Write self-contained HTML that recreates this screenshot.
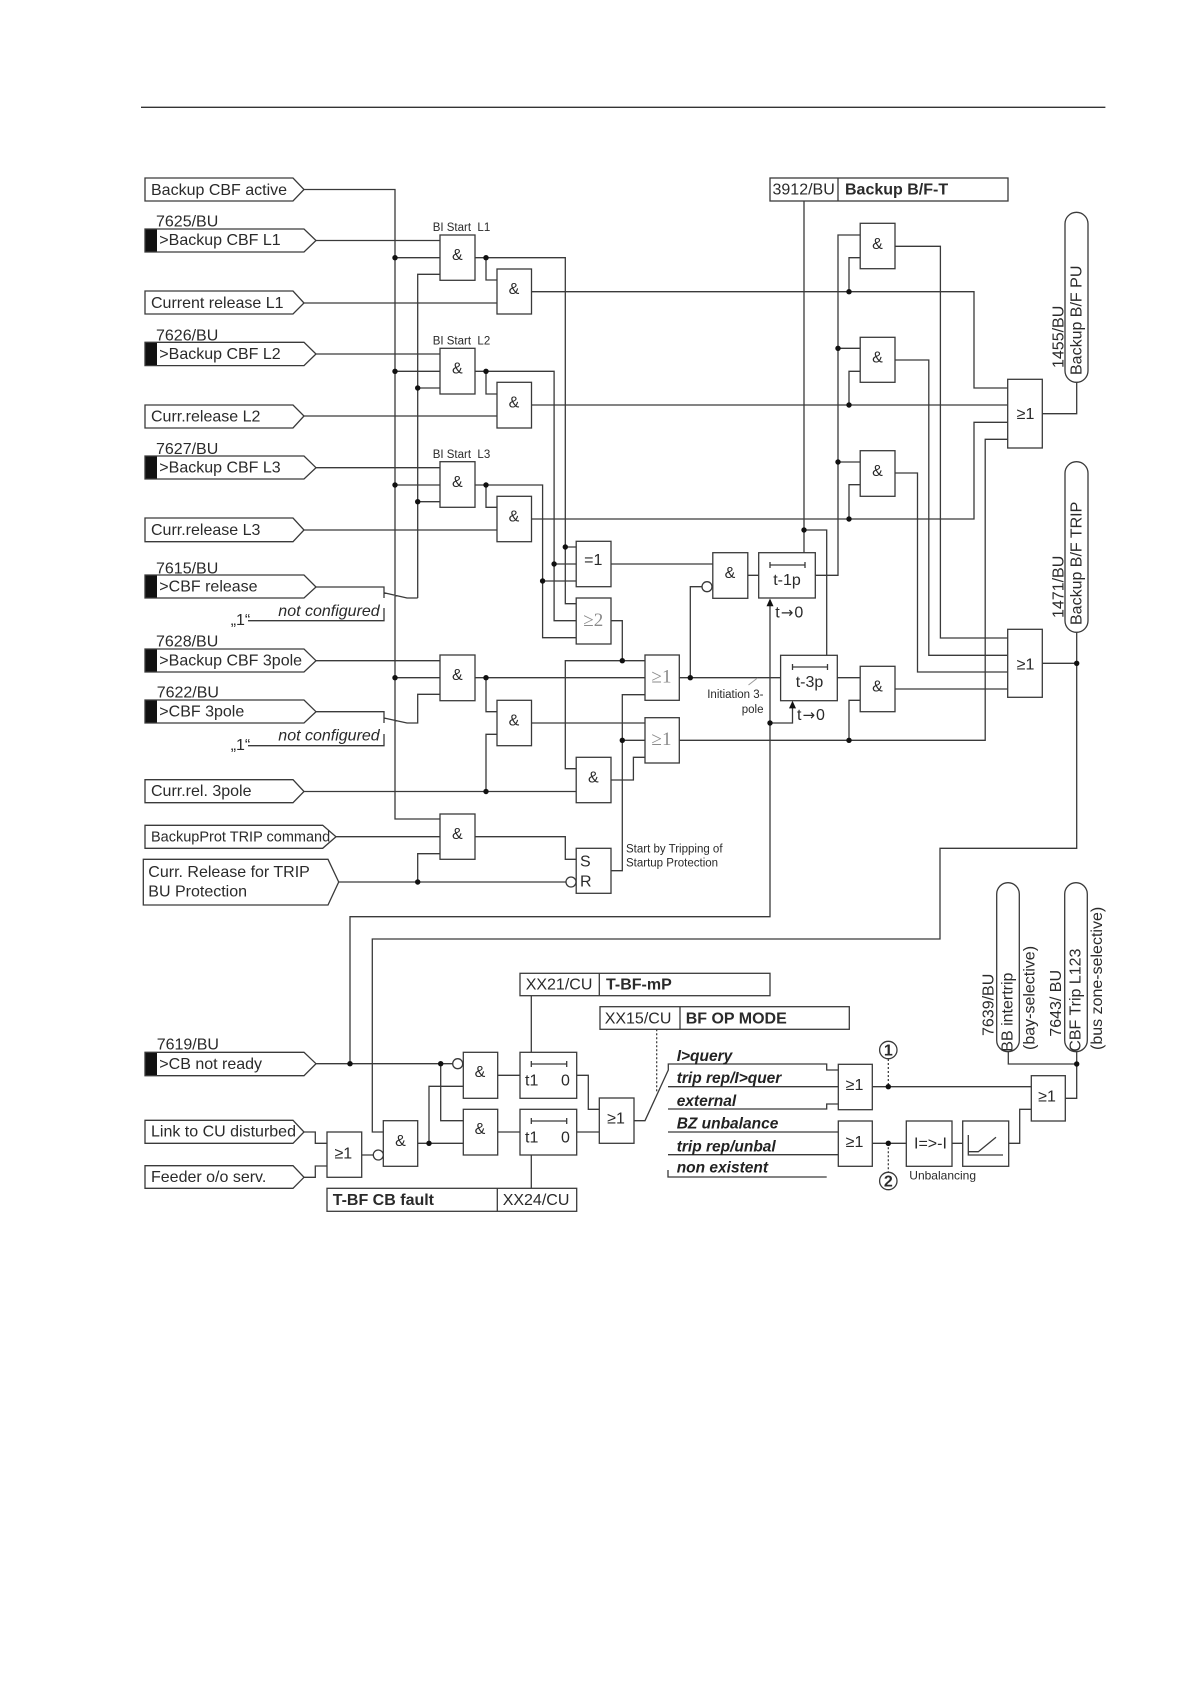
<!DOCTYPE html>
<html><head><meta charset="utf-8"><style>
html,body{margin:0;padding:0;background:#fff}
svg{display:block}
text{font-family:"Liberation Sans",sans-serif;font-size:16px;fill:#2a2a2a;white-space:pre}
.w{fill:none;stroke:#3a3a3a;stroke-width:1.3}
.b rect,.b path{fill:#fff;stroke:#3a3a3a;stroke-width:1.3}
.m{text-anchor:middle}
.i{font-style:italic}
.bd{font-weight:bold}
.bi{font-weight:bold;font-style:italic;font-size:15.5px;fill:#222}
.s{font-size:11.5px}
.g{font-family:"Liberation Serif",serif;font-size:19px;fill:#8a8a8a;text-anchor:middle}
.a{font-family:"DejaVu Sans",sans-serif;font-size:15px}
</style></head><body>
<svg width="1190" height="1684" viewBox="0 0 1190 1684" xmlns="http://www.w3.org/2000/svg">
<path d="M141 107.3H1105.4" fill="none" stroke="#333" stroke-width="1.3"/>

<path class="w" d="M304 189.5H395V819H440M316 240.5H440M395 257.7H440M417.7 598V274.3H440M304 303H497M475 257.7H565.3V603.7H576.2M486 257.7V280H497M531.5 291.7H974V388H1007.7
M316 354H440M395 371.3H440M417.7 388H440M475 371.3H554.1V620.7H576.2M486 371.3V394H497M304 416H497M531.5 405H1007.7
M316 467.7H440M395 485H440M417.7 501.7H440M475 485H542.6V637.7H576.2M486 485V507.3H497M304 530H497M531.5 519H974V422.3H1007.7
M316 587H384V598M384 592.7L407 598H417.7M384 608V620.7H248
M316 660.7H440M395 677.7H440M475 677.7H645M486 677.7V711.7H497M497 734.3H486V791.5M304 791.5H576.2M440 694.3H417.7V723H407L384 718M316 711.7H384V723M384 734V745.7H248
M531.5 723H645M336 836.7H440M475 836.7H565.3V859.3H576.2M338.7 882H566M417.7 882V853.7H440
M645 660.7H565.3V768.7H576.2M611 620.7H622.3V660.7M611 870.7H622.3V694.7H645M622.3 740.3H645M611 780H633.4V757.3H645
M679.3 677.7H780.6M690.3 677.7V586.7H702M611 564H712.8M565.3 547H576.2M554.1 564H576.2M542.6 581H576.2
M747.8 575.3H758.7M815.3 575.3H838V235H860.2M838 348.3H860.2M838 462H860.2M849 291.7V257.7H860.2M849 405V371.3H860.2M849 519V484.7H860.2
M895 246.3H940.4V638H1007.7M895 360H928.8V655.3H1007.7M895 473H917.5V672H1007.7
M804 201V552.7M804 530H826.7V655.3M770 606V916.7H350V1063.7M770 723H792.5V708
M837.3 677.7H860.2M895 689H1007.7M679.3 740.3H985.2V439.3H1007.7M849 740.3V700.3H860.2
M1042.3 413.7H1076.7V382.3M1042.3 663.3H1076.7M1076.7 632.3V848.3H940V939H372.3V1132H383.3
M316 1063.7H452.7M440.7 1063.7V1120.7H463.3M429 1143.3V1086.3H463.3M417.7 1143.3H463.3M304 1132H315.3V1143.3H327M304 1177.3H315.3V1166H327M361.7 1155H373
M497.7 1075.3H520M497.7 1132H520M576.7 1075.3H588.3V1109.3H599.3M576.7 1132H599.3M531.3 995.7V1052.3M531.3 1155V1188.3
M634 1120.7H645L668.3 1070V1064H826.7V1070H838.3M668 1086.7H838.3M668 1109H826.7V1104H838.3M668 1132H838.3M668 1154.7H838.3M668 1170V1177H826.7
M872.3 1086.7H1031.3M872.3 1143.3H906.3M952 1143.3H962.7M1008.7 1143.3H1019.7V1109.3H1031.3M1065.3 1098.3H1076.7V1051.7M1008.3 1051.7V1064H1076.7"/>
<path d="M757.5 678L748.5 685" fill="none" stroke="#999" stroke-width="1"/>
<path d="M656.7 1029.3V1093M888.3 1059V1086.7M888.3 1143.3V1172" fill="none" stroke="#333" stroke-width="1.2" stroke-dasharray="2 2"/>

<g fill="#111">
<circle cx="395" cy="257.7" r="2.7"/><circle cx="395" cy="371.3" r="2.7"/><circle cx="395" cy="485" r="2.7"/><circle cx="395" cy="677.7" r="2.7"/>
<circle cx="417.7" cy="388" r="2.7"/><circle cx="417.7" cy="501.7" r="2.7"/><circle cx="417.7" cy="882" r="2.7"/>
<circle cx="486" cy="257.7" r="2.7"/><circle cx="486" cy="371.3" r="2.7"/><circle cx="486" cy="485" r="2.7"/><circle cx="486" cy="677.7" r="2.7"/><circle cx="486" cy="791.5" r="2.7"/>
<circle cx="565.3" cy="547" r="2.7"/><circle cx="554.1" cy="564" r="2.7"/><circle cx="542.6" cy="581" r="2.7"/>
<circle cx="622.3" cy="660.7" r="2.7"/><circle cx="622.3" cy="740.3" r="2.7"/><circle cx="690.3" cy="677.7" r="2.7"/>
<circle cx="804" cy="530" r="2.7"/><circle cx="770" cy="723" r="2.7"/>
<circle cx="849" cy="291.7" r="2.7"/><circle cx="849" cy="405" r="2.7"/><circle cx="849" cy="519" r="2.7"/><circle cx="849" cy="740.3" r="2.7"/>
<circle cx="838" cy="348.3" r="2.7"/><circle cx="838" cy="462" r="2.7"/>
<circle cx="1076.7" cy="663.3" r="2.7"/><circle cx="350" cy="1063.7" r="2.7"/><circle cx="440.7" cy="1063.7" r="2.7"/><circle cx="429" cy="1143.3" r="2.7"/>
<circle cx="888.3" cy="1086.7" r="2.7"/><circle cx="888.3" cy="1143.3" r="2.7"/><circle cx="1076.7" cy="1064" r="2.7"/>
<path d="M770 598.5L766.5 606.3H773.5ZM792.5 700.7L789 708.4H796Z"/>
<rect x="145" y="229" width="12" height="23"/><rect x="145" y="342.3" width="12" height="23"/><rect x="145" y="456" width="12" height="23"/><rect x="145" y="575" width="12" height="23"/><rect x="145" y="649" width="12" height="23"/><rect x="145" y="700" width="12" height="23"/><rect x="145" y="1052.3" width="12" height="23.4"/>
</g>

<g class="b">
<path style="fill:none" d="M145 178H293L304 189.5L293 201H145Z"/>
<path style="fill:none" d="M145 229H304L316 240.5L304 252H145Z"/>
<path style="fill:none" d="M145 291H293L304 303L293 314H145Z"/>
<path style="fill:none" d="M145 342.3H304L316 354L304 365.6H145Z"/>
<path style="fill:none" d="M145 405H293L304 416L293 428H145Z"/>
<path style="fill:none" d="M145 456H304L316 467.7L304 479H145Z"/>
<path style="fill:none" d="M145 518H293L304 530L293 541.7H145Z"/>
<path style="fill:none" d="M145 575H304L316 587L304 598H145Z"/>
<path style="fill:none" d="M145 649H304L316 660.7L304 672H145Z"/>
<path style="fill:none" d="M145 700H304L316 711.7L304 723H145Z"/>
<path style="fill:none" d="M145 779.7H293L304 791.5L293 802.7H145Z"/>
<path style="fill:none" d="M145 825.3H322.7L336 836.7L322.7 848.3H145Z"/>
<path style="fill:none" d="M143.3 859.3H328L338.7 882L328 905H143.3Z"/>
<path style="fill:none" d="M145 1052.3H304L316 1063.7L304 1075.7H145Z"/>
<path style="fill:none" d="M145 1120.3H293L304 1132L293 1143.3H145Z"/>
<path style="fill:none" d="M145 1165.7H293L304 1177.3L293 1188.3H145Z"/>

<rect x="440" y="235" width="35" height="45.3"/><rect x="497" y="269" width="34.5" height="45"/>
<rect x="440" y="348.3" width="35" height="45.7"/><rect x="497" y="382.3" width="34.5" height="45.7"/>
<rect x="440" y="461.7" width="35" height="45.6"/><rect x="497" y="496.3" width="34.5" height="45.4"/>
<rect x="440" y="655" width="35" height="45.7"/><rect x="497" y="700.3" width="34.5" height="45.4"/>
<rect x="440" y="814" width="35" height="45.3"/>
<rect x="576.2" y="541.3" width="34.8" height="45.4"/><rect x="576.2" y="598" width="34.8" height="46"/>
<rect x="576.2" y="757.3" width="34.8" height="45.4"/><rect x="576.2" y="848.3" width="34.8" height="45"/>
<rect x="645" y="655" width="34.3" height="45.3"/><rect x="645" y="717.7" width="34.3" height="45.3"/>
<rect x="712.8" y="552.7" width="35" height="45.6"/><rect x="758.7" y="552.7" width="56.6" height="45.3"/>
<rect x="780.6" y="655.3" width="56.7" height="45.4"/><rect x="860.2" y="666.3" width="34.8" height="45.4"/>
<rect x="860.2" y="223.3" width="34.8" height="45.4"/><rect x="860.2" y="337.3" width="34.8" height="45"/><rect x="860.2" y="450.7" width="34.8" height="45.6"/>
<rect x="1007.7" y="379.3" width="34.6" height="68.7"/><rect x="1007.7" y="629.3" width="34.6" height="68"/>
<rect x="770" y="178" width="238" height="23"/><path d="M838 178V201"/>
<rect x="327" y="1132" width="34.7" height="45.3"/><rect x="383.3" y="1120.7" width="34.4" height="45.6"/>
<rect x="463.3" y="1052.3" width="34.4" height="46"/><rect x="463.3" y="1109.3" width="34.4" height="45.7"/>
<rect x="520" y="1052.3" width="56.7" height="46"/><rect x="520" y="1109.3" width="56.7" height="45.7"/>
<rect x="599.3" y="1098" width="34.7" height="45.3"/>
<rect x="838.3" y="1064.3" width="34" height="45.4"/><rect x="838.3" y="1121" width="34" height="45.3"/>
<rect x="906.3" y="1121" width="45.7" height="45.3"/><rect x="962.7" y="1121" width="46" height="45.3"/>
<rect x="1031.3" y="1075.7" width="34" height="45.3"/>
<rect x="520" y="973.3" width="250" height="22.4"/><path d="M599.3 973.3V995.7"/>
<rect x="600" y="1006.7" width="249.3" height="22.6"/><path d="M680 1006.7V1029.3"/>
<rect x="327" y="1188.3" width="249.7" height="23"/><path d="M497.3 1188.3V1211.3"/>
<rect x="1065" y="212.3" width="23" height="170" rx="11.5"/><rect x="1065" y="461.7" width="23" height="170.6" rx="11.5"/>
<rect x="996.7" y="882.7" width="22.6" height="169" rx="11.3"/><rect x="1064.7" y="882.7" width="22.6" height="169" rx="11.3"/>
<circle cx="707" cy="586.7" r="5" fill="#fff" stroke="#3a3a3a" stroke-width="1.3"/>
<circle cx="571" cy="882" r="5" fill="#fff" stroke="#3a3a3a" stroke-width="1.3"/>
<circle cx="457.7" cy="1063.7" r="5" fill="#fff" stroke="#3a3a3a" stroke-width="1.3"/>
<circle cx="378.3" cy="1155" r="5" fill="#fff" stroke="#3a3a3a" stroke-width="1.3"/>
<circle cx="888.3" cy="1050" r="8.7" fill="#fff" stroke="#3a3a3a" stroke-width="1.3"/>
<circle cx="888.3" cy="1181" r="8.7" fill="#fff" stroke="#3a3a3a" stroke-width="1.3"/>
</g>

<path class="w" d="M770 565H805M770 562V568M805 562V568M792.5 667H827.5M792.5 664V670M827.5 664V670M531.3 1064H566.7M531.3 1061V1067M566.7 1061V1067M531.3 1121H566.7M531.3 1118V1124M566.7 1118V1124M968.3 1135V1155H1003M968.3 1151.7H978.3L996 1137.3"/>

<text x="151" y="195">Backup CBF active</text>
<text x="156" y="226.7">7625/BU</text><text x="159.3" y="245">&gt;Backup CBF L1</text>
<text x="151" y="308">Current release L1</text>
<text x="156" y="340.3">7626/BU</text><text x="159.3" y="359">&gt;Backup CBF L2</text>
<text x="151" y="421.7">Curr.release L2</text>
<text x="156" y="454">7627/BU</text><text x="159.3" y="472.3">&gt;Backup CBF L3</text>
<text x="151" y="535">Curr.release L3</text>
<text x="156" y="573.3">7615/BU</text><text x="159.3" y="591.7">&gt;CBF release</text>
<text class="i" x="278.3" y="616">not configured</text><text x="230.7" y="625">„1“</text>
<text x="156" y="646.7">7628/BU</text><text x="159.3" y="665.7">&gt;Backup CBF 3pole</text>
<text x="156.7" y="697.3">7622/BU</text><text x="159.3" y="716.7">&gt;CBF 3pole</text>
<text class="i" x="278.3" y="740.7">not configured</text><text x="230.7" y="750">„1“</text>
<text x="151" y="796">Curr.rel. 3pole</text>
<text x="151" y="841.7" style="font-size:14.5px">BackupProt TRIP command</text>
<text x="148.3" y="877">Curr. Release for TRIP</text><text x="148.3" y="896.7">BU Protection</text>
<text x="156.7" y="1049.3">7619/BU</text><text x="159.3" y="1069">&gt;CB not ready</text>
<text x="151" y="1136.7">Link to CU disturbed</text>
<text x="151" y="1182">Feeder o/o serv.</text>

<text class="s" x="432.7" y="231">BI Start  L1</text><text class="s" x="432.7" y="344.5">BI Start  L2</text><text class="s" x="432.7" y="458">BI Start  L3</text>

<text class="m" x="457.3" y="260">&amp;</text><text class="m" x="514" y="294">&amp;</text>
<text class="m" x="457.3" y="373.5">&amp;</text><text class="m" x="514" y="407.5">&amp;</text>
<text class="m" x="457.3" y="487">&amp;</text><text class="m" x="514" y="521.5">&amp;</text>
<text class="m" x="457.3" y="680">&amp;</text><text class="m" x="514" y="725.5">&amp;</text>
<text class="m" x="457.3" y="839">&amp;</text><text class="m" x="593.3" y="782.5">&amp;</text>
<text class="m" x="730" y="578">&amp;</text><text class="m" x="877.5" y="691.5">&amp;</text>
<text class="m" x="877.5" y="249">&amp;</text><text class="m" x="877.5" y="362.5">&amp;</text><text class="m" x="877.5" y="476">&amp;</text>
<text class="m" x="400.5" y="1146">&amp;</text><text class="m" x="480" y="1077">&amp;</text><text class="m" x="480" y="1134">&amp;</text>

<text class="m" x="593.3" y="565">=1</text>
<text class="g" x="593.3" y="626">≥2</text><text class="g" x="661.5" y="682.3">≥1</text><text class="g" x="661.5" y="745">≥1</text>
<text x="580" y="866.7">S</text><text x="580" y="886.7">R</text>
<text class="s" x="626" y="852.7">Start by Tripping of</text><text class="s" x="626" y="866.7">Startup Protection</text>
<text class="s" x="763.5" y="698" text-anchor="end">Initiation 3-</text><text class="s" x="763.5" y="713" text-anchor="end">pole</text>
<text class="m" x="787" y="585">t-1p</text><text x="775.3" y="617.7">t<tspan class="a" dx="1">→</tspan><tspan dx="1">0</tspan></text>
<text class="m" x="809.5" y="687">t-3p</text><text x="797" y="720">t<tspan class="a" dx="1">→</tspan><tspan dx="1">0</tspan></text>
<text class="m" x="1025.5" y="419">≥1</text><text class="m" x="1025.5" y="669.3">≥1</text>
<text x="772.5" y="194.3">3912/BU</text><text class="bd" x="845" y="194.5">Backup B/F-T</text>

<text transform="translate(1081.5 375) rotate(-90)">Backup B/F PU</text>
<text transform="translate(1063.5 368) rotate(-90)">1455/BU</text>
<text transform="translate(1081.5 625) rotate(-90)">Backup B/F TRIP</text>
<text transform="translate(1063.5 618) rotate(-90)">1471/BU</text>

<text x="525.7" y="989.3">XX21/CU</text><text class="bd" x="606" y="989.5">T-BF-mP</text>
<text x="604.7" y="1023.3">XX15/CU</text><text class="bd" x="685.7" y="1023.5">BF OP MODE</text>
<text class="bd" x="332.7" y="1205">T-BF CB fault</text><text x="502.7" y="1205">XX24/CU</text>
<text class="m" x="343.3" y="1158.3">≥1</text>
<text x="525" y="1085.7">t1</text><text x="561" y="1085.7">0</text><text x="525" y="1142.3">t1</text><text x="561" y="1142.3">0</text>
<text class="m" x="616" y="1123.5">≥1</text>
<text class="m" x="854.5" y="1090">≥1</text><text class="m" x="854.5" y="1147">≥1</text><text class="m" x="1047" y="1101.5">≥1</text>
<text class="bi" x="676.7" y="1061">I&gt;query</text><text class="bi" x="676.7" y="1083">trip rep/I&gt;quer</text><text class="bi" x="676.7" y="1106">external</text>
<text class="bi" x="676.7" y="1128.7">BZ unbalance</text><text class="bi" x="676.7" y="1151.7">trip rep/unbal</text><text class="bi" x="676.7" y="1172.7">non existent</text>
<text class="bd m" x="888.3" y="1055.5">1</text><text class="bd m" x="888.3" y="1186.5">2</text>
<text x="914" y="1148.3">I=&gt;-I</text>
<text x="909.3" y="1179.3" style="font-size:12px">Unbalancing</text>
<text transform="translate(993.5 1036) rotate(-90)">7639/BU</text>
<text transform="translate(1012.5 1051.7) rotate(-90)">BB intertrip</text>
<text transform="translate(1034.5 1050) rotate(-90)">(bay-selective)</text>
<text transform="translate(1061 1036.7) rotate(-90)">7643/ BU</text>
<text transform="translate(1080.5 1051.7) rotate(-90)">CBF Trip L123</text>
<text transform="translate(1102 1050) rotate(-90)">(bus zone-selective)</text>
</svg>
</body></html>
